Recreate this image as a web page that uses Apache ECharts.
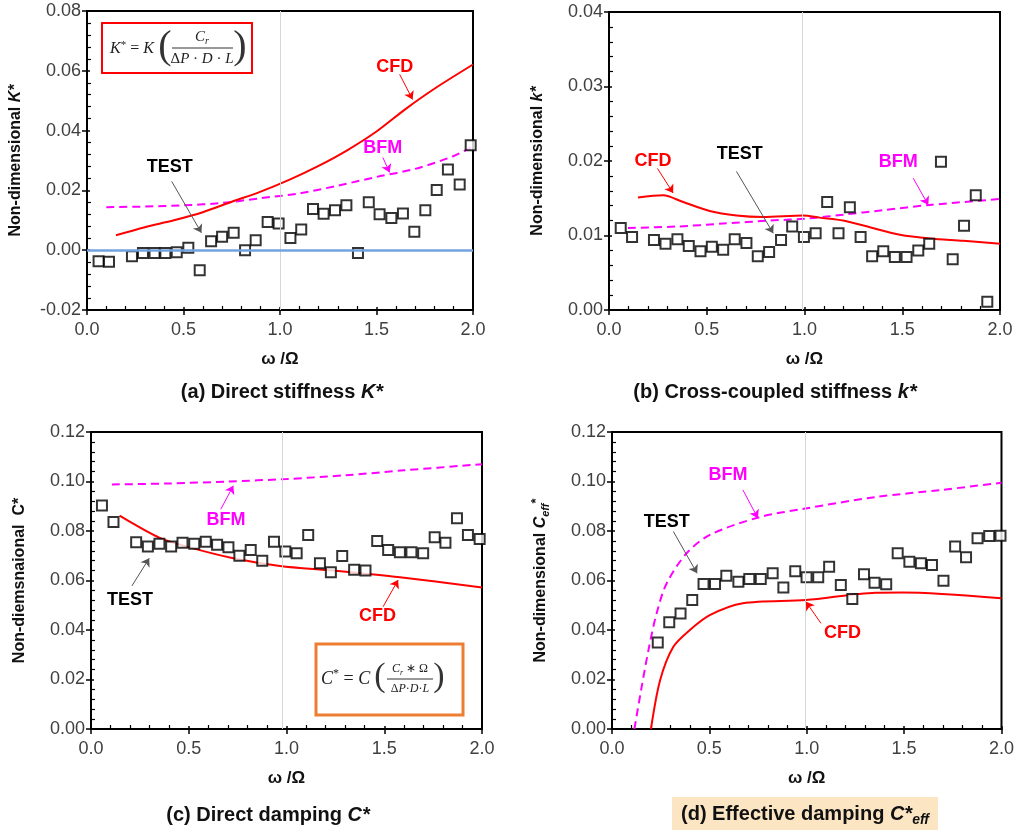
<!DOCTYPE html>
<html>
<head>
<meta charset="utf-8">
<script src="https://cdn.jsdelivr.net/npm/echarts@6/dist/echarts.min.js"></script>
<style>
  html, body { margin: 0; padding: 0; background: #fff; }
  #main { width: 1017px; height: 832px; }
</style>
</head>
<body>
<div id="main"></div>
<script>
// ---- (a) direct stiffness K* ----
const aTestX = [0.06, 0.114, 0.233, 0.29, 0.35, 0.406, 0.465, 0.525, 0.584, 0.643, 0.70, 0.76, 0.819, 0.874, 0.936, 0.993, 1.054, 1.11, 1.171, 1.226, 1.285, 1.344, 1.404, 1.46, 1.516, 1.577, 1.637, 1.696, 1.753, 1.812, 1.87, 1.931, 1.988];
const aTestY = [-0.0037, -0.0039, -0.0020, -0.0009, -0.0009, -0.0009, -0.0007, 0.0008, -0.0067, 0.0030, 0.0045, 0.0058, 0.0000, 0.0033, 0.0094, 0.0089, 0.0041, 0.0069, 0.0138, 0.0122, 0.0134, 0.0150, -0.0009, 0.0160, 0.0120, 0.0108, 0.0123, 0.0062, 0.0134, 0.0201, 0.0270, 0.0220, 0.0351];
const aCfdX = [0.15, 0.3, 0.45, 0.6, 0.75, 0.9, 1.05, 1.2, 1.35, 1.5, 1.65, 1.8, 2.0];
const aCfdY = [0.0050, 0.0077, 0.0100, 0.0127, 0.0162, 0.0196, 0.0236, 0.0282, 0.0335, 0.0397, 0.0472, 0.0540, 0.0621];
const aBfmX = [0.10, 0.3, 0.5, 0.7, 0.9, 1.1, 1.3, 1.5, 1.7, 1.9, 2.0];
const aBfmY = [0.0144, 0.0146, 0.0150, 0.0158, 0.0174, 0.0190, 0.0216, 0.0245, 0.0272, 0.0315, 0.0348];

// ---- (b) cross-coupled stiffness k* ----
const bTestX = [0.06, 0.118, 0.23, 0.289, 0.35, 0.408, 0.468, 0.526, 0.584, 0.643, 0.703, 0.761, 0.819, 0.88, 0.937, 0.997, 1.057, 1.116, 1.174, 1.232, 1.287, 1.346, 1.403, 1.462, 1.522, 1.582, 1.638, 1.698, 1.758, 1.816, 1.876, 1.935];
const bTestY = [0.0110, 0.0098, 0.0094, 0.0089, 0.0095, 0.0086, 0.0079, 0.0085, 0.0081, 0.0095, 0.0090, 0.0072, 0.0078, 0.0094, 0.0112, 0.0098, 0.0103, 0.0145, 0.0103, 0.0138, 0.0098, 0.0072, 0.0079, 0.0071, 0.0071, 0.0080, 0.0089, 0.0199, 0.0068, 0.0113, 0.0154, 0.0011];
const bCfdX = [0.148, 0.276, 0.379, 0.515, 0.652, 0.788, 0.993, 1.078, 1.198, 1.335, 1.488, 1.642, 1.812, 2.0];
const bCfdY = [0.0151, 0.0154, 0.0145, 0.0133, 0.0127, 0.0125, 0.0127, 0.0124, 0.0120, 0.0111, 0.0101, 0.0096, 0.0093, 0.0089];
const bBfmX = [0.097, 0.345, 0.584, 0.823, 1.027, 1.198, 1.403, 1.642, 2.0];
const bBfmY = [0.0110, 0.0112, 0.0116, 0.0120, 0.0123, 0.0128, 0.0134, 0.0141, 0.0149];

// ---- (c) direct damping C* ----
const cTestX = [0.056, 0.115, 0.231, 0.291, 0.35, 0.41, 0.468, 0.528, 0.587, 0.645, 0.703, 0.759, 0.817, 0.876, 0.936, 0.994, 1.052, 1.111, 1.171, 1.227, 1.285, 1.346, 1.404, 1.464, 1.52, 1.58, 1.639, 1.699, 1.758, 1.813, 1.872, 1.928, 1.988];
const cTestY = [0.0903, 0.0836, 0.0755, 0.0737, 0.0748, 0.0737, 0.0753, 0.0748, 0.0757, 0.0744, 0.0734, 0.0700, 0.0723, 0.0680, 0.0757, 0.0717, 0.0710, 0.0784, 0.0670, 0.0633, 0.0699, 0.0643, 0.0640, 0.0760, 0.0723, 0.0714, 0.0714, 0.0710, 0.0775, 0.0753, 0.0852, 0.0784, 0.0768];
const cCfdX = [0.146, 0.354, 0.49, 0.728, 0.967, 1.239, 1.58, 2.0];
const cCfdY = [0.0862, 0.0771, 0.0737, 0.0690, 0.0659, 0.0640, 0.0613, 0.0572];
const cBfmX = [0.107, 0.4, 0.7, 1.0, 1.3, 1.6, 2.0];
const cBfmY = [0.0988, 0.0992, 0.1000, 0.1010, 0.1025, 0.1045, 0.1070];

// ---- (d) effective damping C*eff ----
const dTestX = [0.235, 0.294, 0.352, 0.412, 0.47, 0.529, 0.587, 0.649, 0.705, 0.764, 0.825, 0.88, 0.941, 0.999, 1.059, 1.115, 1.175, 1.234, 1.294, 1.348, 1.408, 1.467, 1.527, 1.586, 1.643, 1.702, 1.762, 1.818, 1.877, 1.937, 1.995];
const dTestY = [0.0350, 0.0431, 0.0467, 0.0521, 0.0586, 0.0586, 0.0619, 0.0595, 0.0606, 0.0606, 0.0629, 0.0572, 0.0637, 0.0613, 0.0613, 0.0656, 0.0582, 0.0525, 0.0625, 0.0591, 0.0585, 0.0710, 0.0676, 0.0670, 0.0663, 0.0599, 0.0737, 0.0694, 0.0771, 0.0780, 0.0781];
const dCfdX = [0.2, 0.247, 0.315, 0.4, 0.502, 0.672, 0.996, 1.353, 1.49, 2.0];
const dCfdY = [0.0, 0.0197, 0.0332, 0.0400, 0.0460, 0.0508, 0.0521, 0.0551, 0.0552, 0.0528];
const dBfmX = [0.115, 0.15, 0.19, 0.23, 0.281, 0.383, 0.502, 0.757, 0.978, 1.353, 1.693, 2.0];
const dBfmY = [0.0, 0.016, 0.033, 0.047, 0.0589, 0.0710, 0.0784, 0.0856, 0.0889, 0.0937, 0.0966, 0.0995];

// ---- axis ranges and tick labels ----
const xTicks = ['0.0', '0.5', '1.0', '1.5', '2.0'];
const yRanges = [
  { min: -0.02, max: 0.08, interval: 0.02 },
  { min: 0, max: 0.04, interval: 0.01 },
  { min: 0, max: 0.12, interval: 0.02 },
  { min: 0, max: 0.12, interval: 0.02 }
];
const xTitle = 'ω /Ω';
const yTitles = [
  '{n|Non-dimensional }{i|K*}',
  '{n|Non-dimensional }{i|k*}',
  '{n|Non-diemsnaional  C*}',
  '{n|Non-dimensional }{i|C}{sb|eff}{sp|*}'
];
const captions = [
  '{n|(a) Direct stiffness }{i|K*}',
  '{n|(b) Cross-coupled stiffness }{i|k*}',
  '{n|(c) Direct damping }{i|C*}',
  '{n|(d) Effective damping }{i|C*}{sb|eff}'
];

// plot rectangles of the four panels
const grids = [
  { left: 87, top: 11, width: 386, height: 299 },
  { left: 609, top: 12, width: 391, height: 298 },
  { left: 91, top: 432, width: 391, height: 297 },
  { left: 612, top: 432, width: 391, height: 297 }
];

const SANS = '"Liberation Sans", Arial, sans-serif';
const SERIF = '"Liberation Serif", "Times New Roman", serif';
const RED = '#ff0000';
const MAG = '#ff00ff';

const zip = (xs, ys) => xs.map((x, i) => [x, ys[i]]);

// main axes: line, labels, titles and outward major ticks
function xAxis(i) {
  return {
    type: 'value', gridIndex: i, position: 'bottom', min: 0, max: 2, interval: 0.5,
    axisLine: { show: true, onZero: false, lineStyle: { color: '#000', width: 2 } },
    axisTick: { show: true, inside: false, length: 5, lineStyle: { color: '#000', width: 1.5 } },
    minorTick: { show: false },
    splitLine: { show: false }, minorSplitLine: { show: false },
    axisLabel: { color: '#404040', fontSize: 18, fontFamily: SANS, margin: 11,
      formatter: v => xTicks[Math.round(v / 0.5)] },
    name: xTitle, nameLocation: 'middle', nameGap: 41,
    nameTextStyle: { color: '#111', fontSize: 17, fontWeight: 'bold', fontFamily: SANS }
  };
}

function yAxis(i) {
  const r = yRanges[i];
  return {
    type: 'value', gridIndex: i, position: 'left', min: r.min, max: r.max, interval: r.interval,
    axisLine: { show: true, onZero: false, lineStyle: { color: '#000', width: 2 } },
    axisTick: { show: true, inside: false, length: 5, lineStyle: { color: '#000', width: 1.5 } },
    minorTick: { show: false },
    splitLine: { show: false }, minorSplitLine: { show: false },
    axisLabel: { color: '#404040', fontSize: 18, fontFamily: SANS, margin: 6,
      formatter: v => v.toFixed(2) },
    name: yTitles[i], nameLocation: 'middle', nameGap: 60,
    nameTextStyle: {
      color: '#111', fontFamily: SANS,
      rich: {
        n: { fontSize: 16, fontWeight: 'bold', fontFamily: SANS, color: '#111', lineHeight: 22 },
        i: { fontSize: 16, fontWeight: 'bold', fontStyle: 'italic', fontFamily: SANS, color: '#111', lineHeight: 22 },
        sb: { fontSize: 11, fontWeight: 'bold', fontStyle: 'italic', fontFamily: SANS, color: '#111', lineHeight: 22, verticalAlign: 'bottom', padding: [0, 0, 1, 0] },
        sp: { fontSize: 13, fontWeight: 'bold', fontFamily: SANS, color: '#111', lineHeight: 22, verticalAlign: 'top' }
      }
    }
  };
}

// companion axes on the same scales: inward major and minor ticks only
function innerTicks(base) {
  return Object.assign({}, base, {
    axisLine: { show: false, onZero: false },
    axisLabel: { show: false },
    name: '',
    axisTick: { show: true, inside: true, length: 3, lineStyle: { color: '#000', width: 1.5 } },
    minorTick: { show: true, splitNumber: 5, length: 4, lineStyle: { color: '#000', width: 1.2 } }
  });
}

// annotation helpers: text labels and pointer arrows in data coordinates
function tag(text, x, y, color) {
  return { coord: [x, y], symbol: 'circle', symbolSize: 0,
    label: { show: true, formatter: text, color, fontSize: 18, fontWeight: 'bold', fontFamily: SANS, position: 'inside' } };
}
function arrow(x1, y1, x2, y2, color) {
  return [{ coord: [x1, y1], lineStyle: { color, width: 1, type: 'solid' }, itemStyle: { color } },
          { coord: [x2, y2], itemStyle: { color } }];
}

const notes = [
  { // (a)
    tags: [tag('CFD', 1.595, 0.0614, RED), tag('BFM', 1.533, 0.0343, MAG), tag('TEST', 0.429, 0.0277, '#000')],
    arrows: [arrow(1.62, 0.0588, 1.687, 0.0504, RED), arrow(1.533, 0.031, 1.568, 0.026, MAG), arrow(0.439, 0.023, 0.593, 0.0058, '#555')],
    vline: 1.0
  },
  { // (b)
    tags: [tag('CFD', 0.225, 0.0200, RED), tag('TEST', 0.669, 0.0210, '#000'), tag('BFM', 1.479, 0.0198, MAG)],
    arrows: [arrow(0.248, 0.0190, 0.328, 0.0157, RED), arrow(0.652, 0.0186, 0.84, 0.0103, '#555'), arrow(1.556, 0.0177, 1.633, 0.0141, MAG)],
    vline: 0.99
  },
  { // (c)
    tags: [tag('BFM', 0.69, 0.0845, MAG), tag('TEST', 0.20, 0.0521, '#000'), tag('CFD', 1.466, 0.0456, RED)],
    arrows: [arrow(0.664, 0.0888, 0.728, 0.0983, MAG), arrow(0.209, 0.0578, 0.298, 0.0690, '#555'), arrow(1.494, 0.0494, 1.571, 0.0602, RED)],
    vline: 0.98
  },
  { // (d)
    tags: [tag('BFM', 0.596, 0.1027, MAG), tag('TEST', 0.281, 0.0838, '#000'), tag('CFD', 1.183, 0.0386, RED)],
    arrows: [arrow(0.672, 0.0966, 0.749, 0.0852, MAG), arrow(0.315, 0.0798, 0.437, 0.0629, '#555'), arrow(1.073, 0.0427, 0.996, 0.0514, RED)],
    vline: 0.99
  }
];

const panels = [
  { test: zip(aTestX, aTestY), cfd: zip(aCfdX, aCfdY), bfm: zip(aBfmX, aBfmY) },
  { test: zip(bTestX, bTestY), cfd: zip(bCfdX, bCfdY), bfm: zip(bBfmX, bBfmY) },
  { test: zip(cTestX, cTestY), cfd: zip(cCfdX, cCfdY), bfm: zip(cBfmX, cBfmY) },
  { test: zip(dTestX, dTestY), cfd: zip(dCfdX, dCfdY), bfm: zip(dBfmX, dBfmY) }
];

const series = [];
panels.forEach((p, i) => {
  const refLines = [{ xAxis: notes[i].vline, lineStyle: { color: '#d6d6d6', width: 1, type: 'solid' } }];
  if (i === 0) refLines.push({ yAxis: 0, lineStyle: { color: '#72a3dc', width: 2.5, type: 'solid' } });
  series.push({
    name: 'BFM', type: 'line', xAxisIndex: i, yAxisIndex: i, data: p.bfm,
    symbol: 'none', smooth: 0.3, z: 2,
    lineStyle: { color: MAG, width: 2, type: [8, 5] },
    markLine: { silent: true, symbol: ['none', 'none'], label: { show: false }, animation: false, data: refLines }
  });
  series.push({
    name: 'CFD', type: 'line', xAxisIndex: i, yAxisIndex: i, data: p.cfd,
    symbol: 'none', smooth: 0.3, z: 3,
    lineStyle: { color: RED, width: 2 }
  });
  series.push({
    name: 'TEST', type: 'scatter', xAxisIndex: i, yAxisIndex: i, data: p.test,
    symbol: 'rect', symbolSize: 10, z: 4,
    itemStyle: { color: '#fff', borderColor: '#000', borderWidth: 2 },
    markLine: { silent: true, symbol: ['none', 'arrow'], symbolSize: 8, label: { show: false }, animation: false, data: notes[i].arrows },
    markPoint: { silent: true, animation: false, data: notes[i].tags }
  });
});

// captions below each panel
const capRich = {
  n: { fontSize: 20, fontWeight: 'bold', fontFamily: SANS, fill: '#111' },
  i: { fontSize: 20, fontWeight: 'bold', fontStyle: 'italic', fontFamily: SANS, fill: '#111' },
  sb: { fontSize: 14, fontWeight: 'bold', fontStyle: 'italic', fontFamily: SANS, fill: '#111', verticalAlign: 'bottom', lineHeight: 27 }
};
const capPos = [[282, 392], [775, 392], [268, 815], [805, 814]];

const graphic = [
  { type: 'rect', shape: { x: 672, y: 797, width: 266, height: 33 }, style: { fill: '#fbe5c3' }, z: 0 }
];
captions.forEach((c, i) => {
  graphic.push({ type: 'text', x: capPos[i][0], y: capPos[i][1], z: 10,
    style: { text: c, rich: capRich, align: 'center', verticalAlign: 'middle' } });
});

// formula box for K*
const fk = { n: { fontSize: 16, fontFamily: SERIF, fill: '#222' }, i: { fontSize: 16, fontStyle: 'italic', fontFamily: SERIF, fill: '#222' },
  s: { fontSize: 11, fontFamily: SERIF, fill: '#222', verticalAlign: 'top', lineHeight: 19 } };
const fk2 = { n: { fontSize: 15, fontFamily: SERIF, fill: '#222' }, i: { fontSize: 15, fontStyle: 'italic', fontFamily: SERIF, fill: '#222' },
  sb: { fontSize: 10, fontStyle: 'italic', fontFamily: SERIF, fill: '#222', verticalAlign: 'bottom', lineHeight: 19 } };
graphic.push(
  { type: 'rect', z: 20, shape: { x: 102, y: 23, width: 150, height: 50 }, style: { fill: '#fff', stroke: RED, lineWidth: 2 } },
  { type: 'text', z: 21, x: 110, y: 49, style: { text: '{i|K}{s|*}{n| = }{i|K}', rich: fk, align: 'left', verticalAlign: 'middle' } },
  { type: 'text', z: 21, x: 165, y: 47, style: { text: '(', font: '40px ' + SERIF, fill: '#333', align: 'center', verticalAlign: 'middle' } },
  { type: 'text', z: 21, x: 202, y: 37, style: { text: '{i|C}{sb|r}', rich: fk2, align: 'center', verticalAlign: 'middle' } },
  { type: 'line', z: 21, shape: { x1: 172, y1: 48, x2: 233, y2: 48 }, style: { stroke: '#333', lineWidth: 1 } },
  { type: 'text', z: 21, x: 202, y: 59, style: { text: '{n|Δ}{i|P}{n| · }{i|D}{n| · }{i|L}', rich: fk2, align: 'center', verticalAlign: 'middle' } },
  { type: 'text', z: 21, x: 240, y: 47, style: { text: ')', font: '40px ' + SERIF, fill: '#333', align: 'center', verticalAlign: 'middle' } }
);

// formula box for C*
const fc = { n: { fontSize: 18, fontFamily: SERIF, fill: '#222' }, i: { fontSize: 18, fontStyle: 'italic', fontFamily: SERIF, fill: '#222' },
  s: { fontSize: 12, fontFamily: SERIF, fill: '#222', verticalAlign: 'top', lineHeight: 22 } };
const fc2 = { n: { fontSize: 12, fontFamily: SERIF, fill: '#222' }, i: { fontSize: 12, fontStyle: 'italic', fontFamily: SERIF, fill: '#222' },
  sb: { fontSize: 8, fontStyle: 'italic', fontFamily: SERIF, fill: '#222', verticalAlign: 'bottom', lineHeight: 15 } };
graphic.push(
  { type: 'rect', z: 20, shape: { x: 316, y: 644, width: 147, height: 71 }, style: { fill: '#fff', stroke: '#ed7d31', lineWidth: 3 } },
  { type: 'text', z: 21, x: 321, y: 679, style: { text: '{i|C}{s|*}{n| = }{i|C}', rich: fc, align: 'left', verticalAlign: 'middle' } },
  { type: 'text', z: 21, x: 380, y: 677, style: { text: '(', font: '34px ' + SERIF, fill: '#333', align: 'center', verticalAlign: 'middle' } },
  { type: 'text', z: 21, x: 410, y: 669, style: { text: '{i|C}{sb|r}{n| ∗ Ω}', rich: fc2, align: 'center', verticalAlign: 'middle' } },
  { type: 'line', z: 21, shape: { x1: 387, y1: 679, x2: 433, y2: 679 }, style: { stroke: '#333', lineWidth: 1 } },
  { type: 'text', z: 21, x: 410, y: 689, style: { text: '{n|Δ}{i|P}{n|·}{i|D}{n|·}{i|L}', rich: fc2, align: 'center', verticalAlign: 'middle' } },
  { type: 'text', z: 21, x: 439, y: 677, style: { text: ')', font: '34px ' + SERIF, fill: '#333', align: 'center', verticalAlign: 'middle' } }
);

const mainX = grids.map((g, i) => xAxis(i));
const mainY = grids.map((g, i) => yAxis(i));

const chart = echarts.init(document.getElementById('main'));
chart.setOption({
  animation: false,
  backgroundColor: '#fff',
  grid: grids.map(g => Object.assign({ show: true, borderColor: '#000', borderWidth: 2, backgroundColor: 'transparent', containLabel: false }, g)),
  xAxis: mainX.concat(mainX.map(innerTicks)),
  yAxis: mainY.concat(mainY.map(innerTicks)),
  series,
  graphic
});
</script>
</body>
</html>
